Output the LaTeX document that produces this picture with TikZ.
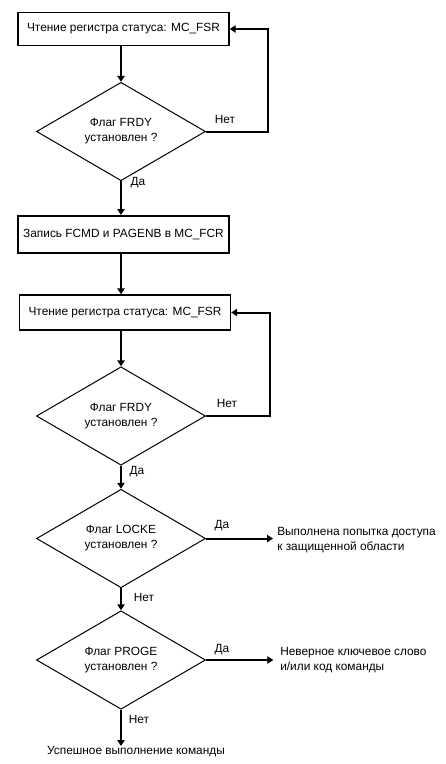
\documentclass[tikz,border=0pt]{standalone}
\usepackage{fontspec}
\setmainfont{Liberation Sans}
\usetikzlibrary{positioning, shapes.geometric, arrows.meta, calc}

\begin{document}
\begin{tikzpicture}[x=0.75pt, y=-0.75pt, font=\fontsize{8.9}{11.2}\selectfont,
    box/.style={draw, line width=1pt, minimum width=158.25pt, inner sep=0pt},
    check/.style={diamond, draw, line width=0.75pt, minimum width=126.75pt,
      minimum height=62.25pt, align=center, inner sep=0pt},
    flow/.style={line width=1.5pt, -{Triangle[length=4.5pt, width=5.5pt]}},
    lbl/.style={inner sep=0pt}]
    \useasboundingbox (0,0) rectangle (446,764);
    \node[box, minimum height=24.75pt] (read1) at (123.5,29) {Чтение регистра статуса: MC\_FSR};
    \node[check] (frdy1) at (121,131.5) {Флаг FRDY\\установлен ?};
    \node[box, line width=1.5pt, minimum height=27.75pt] (write) at (123.5,234.5) {Запись FCMD и PAGENB в MC\_FCR};
    \node[box, minimum height=26.25pt] (read2) at (125,312.5) {Чтение регистра статуса: MC\_FSR};
    \node[check] (frdy2) at (121,416) {Флаг FRDY\\установлен ?};
    \node[check] (locke) at (121,538.5) {Флаг LOCKE\\установлен ?};
    \node[check] (proge) at (121,660) {Флаг PROGE\\установлен ?};
    \node[lbl, anchor=west, align=left] (errlock) at (277,540) {Выполнена попытка доступа\\к защищенной области};
    \node[lbl, anchor=west, align=left] (errcmd) at (280,660.5) {Неверное ключевое слово\\и/или код команды};
    \node[lbl, anchor=north] (done) at (136,746) {Успешное выполнение команды};

    \draw[flow] (read1.south -| frdy1.north) -- (frdy1.north);
    \draw[flow] (frdy1.east) -- (268,131.5) |- (read1.east);
    \draw[flow] (frdy1.south) -- (write.north -| frdy1.south);
    \draw[flow] (write.south -| frdy2.north) -- (read2.north -| frdy2.north);
    \draw[flow] (read2.south -| frdy2.north) -- (frdy2.north);
    \draw[flow] (frdy2.east) -- (270,416) |- (read2.east);
    \draw[flow] (frdy2.south) -- (locke.north);
    \draw[flow] (locke.east) -- ([xshift=-3pt]errlock.west |- locke.east);
    \draw[flow] (locke.south) -- (proge.north);
    \draw[flow] (proge.east) -- ([xshift=-5pt]errcmd.west |- proge.east);
    \draw[flow] (proge.south) -- (done.north -| proge.south);

    \node[lbl] (no1) at (225,119) {Нет};
    \node[lbl] (yes1) at (138,183) {Да};
    \node[lbl] (no2) at (227,403) {Нет};
    \node[lbl] (yes2) at (137,472) {Да};
    \node[lbl] (yes3) at (222,526) {Да};
    \node[lbl] (no3) at (144,597) {Нет};
    \node[lbl] (yes4) at (222,650) {Да};
    \node[lbl] (no4) at (139,719) {Нет};
\end{tikzpicture}
\end{document}
